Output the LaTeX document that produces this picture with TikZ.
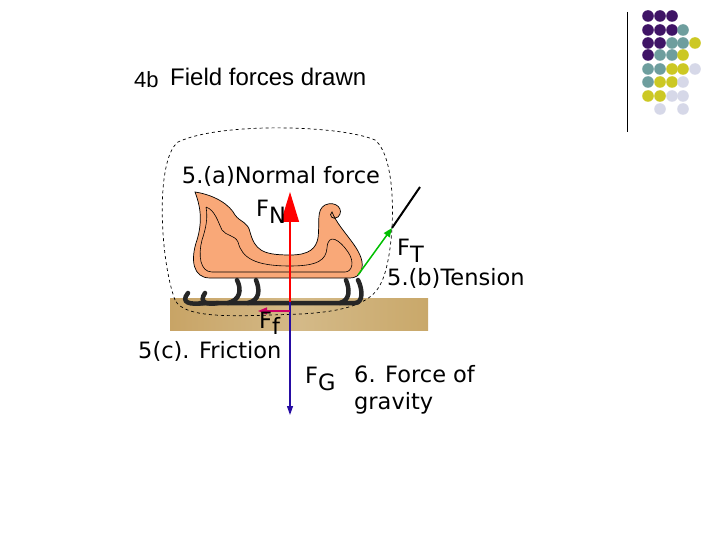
\documentclass[tikz,border=0pt]{standalone}
\usepackage{fontspec}
\setmainfont{DejaVu Sans}
\newfontfamily\arialf{Liberation Sans}
\usetikzlibrary{arrows.meta}
\definecolor{dP}{HTML}{3F1466}
\definecolor{dT}{HTML}{6E9E9E}
\definecolor{dY}{HTML}{CCC824}
\definecolor{dL}{HTML}{D6D8E8}
\definecolor{sled}{HTML}{F9A878}
\definecolor{ground}{HTML}{C9A86A}
\begin{document}
\begin{tikzpicture}[x=1pt,y=-1pt,
  lbl/.style={font=\fontsize{22.5}{25}\selectfont, inner sep=0pt},
  runner/.style={line width=4.5pt, line cap=round, black!85}]
\useasboundingbox (0,0) rectangle (720,540);
% dot grid
\foreach \c/\y in {648/16,660/16,672/16,648/30,660/30,672/30,648/43,660/43,648/55}{\fill[dP] (\c,\y) circle (5.8);}
\foreach \c/\y in {683/30,672/43,683/43,660/55,672/55,648/69,660/69,648/82}{\fill[dT] (\c,\y) circle (5.8);}
\foreach \c/\y in {695/43,683/55,672/69,683/69,660/82,672/82,648/96,660/96}{\fill[dY] (\c,\y) circle (5.8);}
\foreach \c/\y in {695/69,683/82,672/96,683/96,660/109,683/109}{\fill[dL] (\c,\y) circle (5.8);}
\draw[line width=1pt] (627,12) -- (627,132);
% title
\node[anchor=base west, inner sep=0pt, font=\arialf\fontsize{22}{24}\selectfont] (t4) at (134,88) {4b};
\node[anchor=base west, inner sep=0pt, font=\arialf\fontsize{24}{26}\selectfont] (title) at (170,86) {Field forces drawn};
% ground
\shade[left color=ground!90!brown, right color=ground, middle color=ground!80!white] (170,298) rectangle (428,330);
% dashed outline
\draw[dashed, line width=0.7pt] (175,300) .. controls (160,260) and (155,160) .. (178,142)
  .. controls (220,122) and (340,125) .. (375,140) .. controls (400,160) and (395,260) .. (380,285)
  .. controls (370,305) and (340,312) .. (300,314) .. controls (240,316) and (185,320) .. (175,300);
% sled body
\draw[fill=sled, line width=0.7pt] (195,192) .. controls (215,195) and (230,205) .. (235,215)
  .. controls (240,222) and (248,222) .. (250,232) .. controls (255,250) and (262,255) .. (290,255)
  .. controls (310,255) and (316,248) .. (318,238) .. controls (320,222) and (316,210) .. (325,205)
  .. controls (336,200) and (345,210) .. (338,217) .. controls (333,221) and (328,215) .. (332,212)
  .. controls (340,232) and (365,250) .. (362,268) .. controls (360,276) and (355,278) .. (350,278)
  -- (210,278) .. controls (193,278) and (190,260) .. (197,240) .. controls (203,220) and (200,205) .. (195,192) -- cycle;
\draw[line width=0.6pt] (206,207) .. controls (215,210) and (218,222) .. (222,230)
  .. controls (226,236) and (235,235) .. (238,242) .. controls (242,258) and (255,266) .. (290,266)
  .. controls (318,266) and (326,260) .. (327,248) .. controls (328,232) and (340,240) .. (348,252)
  .. controls (355,262) and (352,272) .. (345,272) -- (212,272) .. controls (200,272) and (198,255) .. (202,240)
  .. controls (206,228) and (208,218) .. (206,207);
% runners
\draw[runner] (200,303) -- (355,303) .. controls (363,303) and (363,290) .. (358,280);
\draw[runner] (188,293) .. controls (180,303) and (190,305) .. (205,303);
\draw[runner] (205,293) .. controls (198,303) and (208,305) .. (218,303);
\draw[runner] (228,303) .. controls (240,300) and (242,290) .. (237,280);
\draw[runner] (248,303) .. controls (260,300) and (260,290) .. (256,280);
\draw[runner] (340,303) .. controls (350,300) and (350,290) .. (346,280);
% forces
\coordinate (c) at (290,302);
\coordinate (ntip) at (290,192);
\coordinate (gtip) at (290,415);
\draw[red, line width=1.2pt, -{Triangle[length=30pt,width=18pt]}] (c) -- (ntip);
\draw[dP!60!blue, line width=1.2pt, -{Triangle[length=9pt,width=6pt]}] (c) -- (gtip);
\coordinate (fs) at (290,311); \coordinate (fe) at (258,311);
\draw[purple!80!magenta, line width=1.5pt, -{Triangle[length=9pt,width=7pt]}] (fs) -- (fe);
\coordinate (ts) at (358,275); \coordinate (te) at (392,228); \coordinate (rope) at (420,187);
\draw[line width=2pt] (te) -- (rope);
\draw[green!75!black, line width=1.5pt, -{Triangle[length=9pt,width=7pt]}] (ts) -- (te);
% labels
\node[lbl] (na) at (281,176) {5.(a)Normal force};
\node[lbl, anchor=base west] (fn) at (256,217) {F\raisebox{-7pt}{N}};
\node[lbl, anchor=base west] (ft) at (397,255) {F\raisebox{-7pt}{T}};
\node[lbl, anchor=base west] (tb) at (387,285) {5.(b)Tension};
\node[lbl, anchor=base west] (ff) at (259,328) {F\raisebox{-6pt}{f}};
\node[lbl, anchor=base west] (fr) at (138,358) {5(c). Friction};
\node[lbl, anchor=base west] (fg) at (305,383) {F\raisebox{-7pt}{G}};
\node[lbl, anchor=base west] (g1) at (354,382) {6. Force of};
\node[lbl, anchor=base west] (g2) at (354,409) {gravity};
\end{tikzpicture}
\end{document}
